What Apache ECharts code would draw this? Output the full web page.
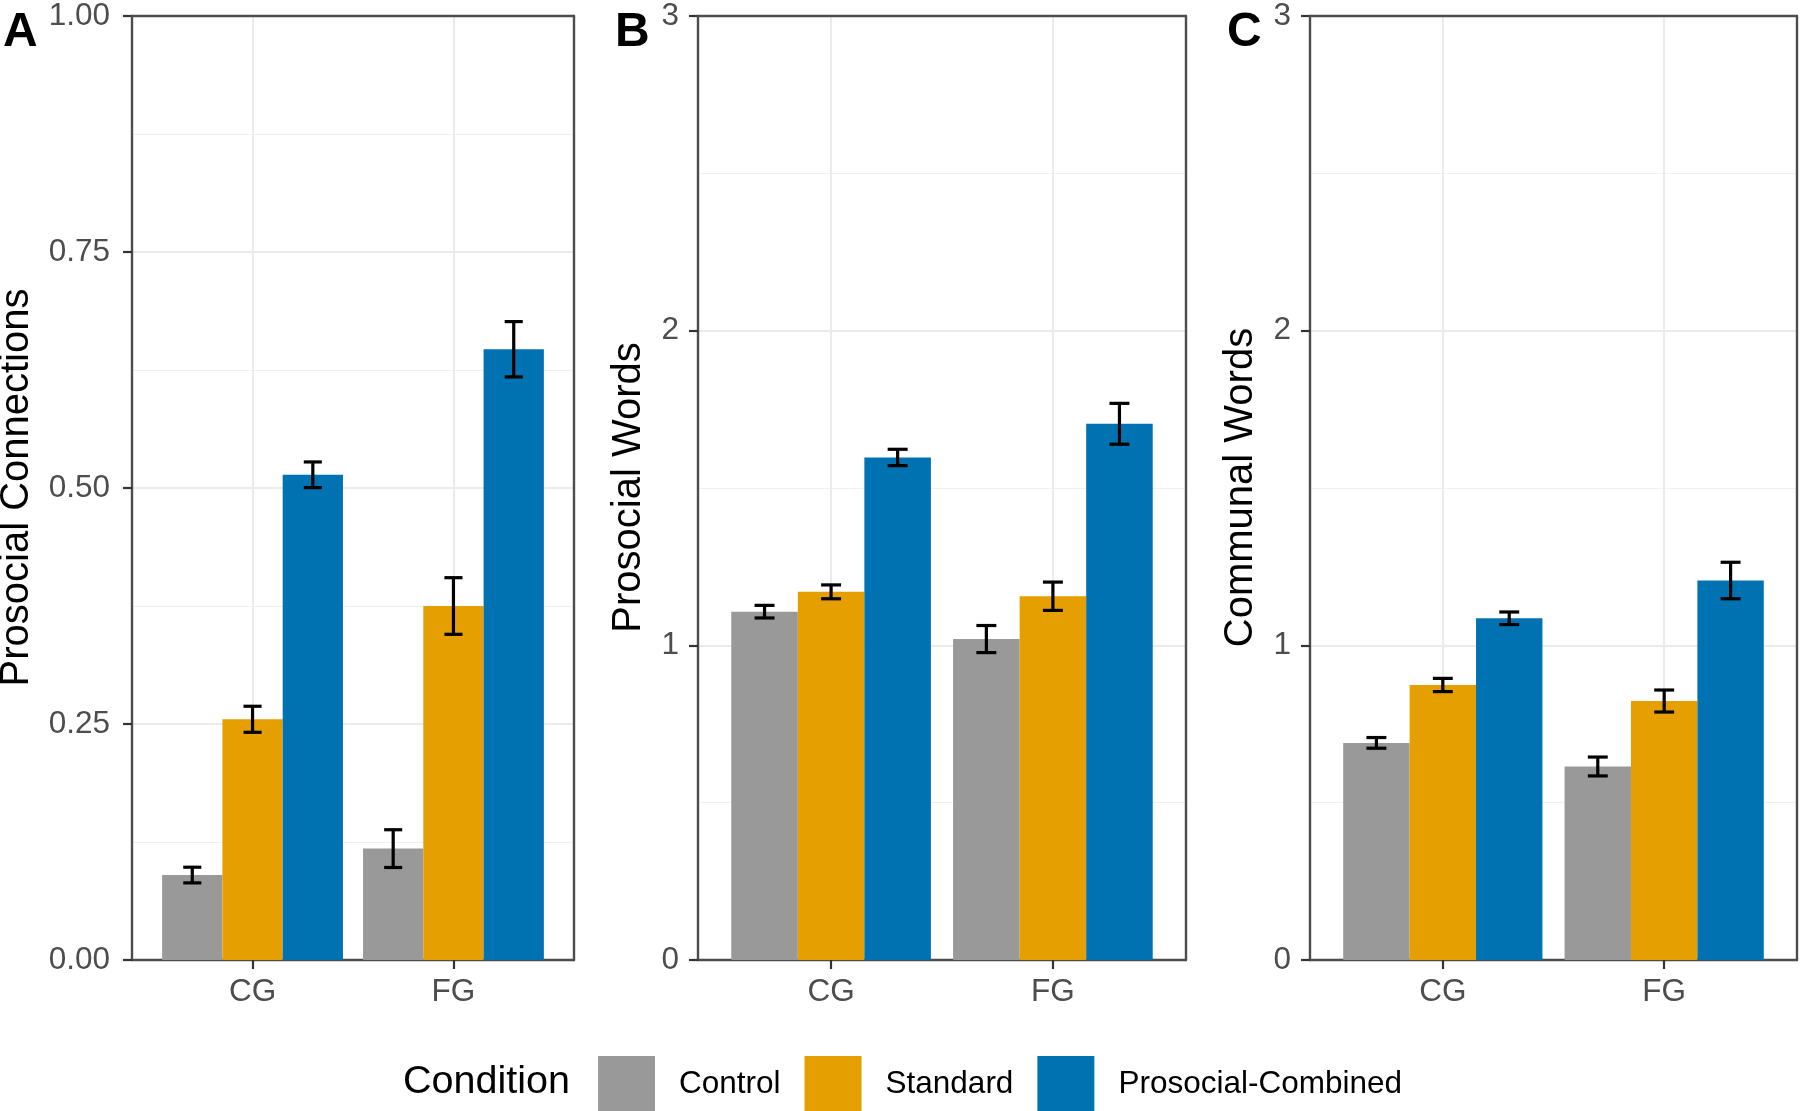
<!DOCTYPE html>
<html><head><meta charset="utf-8">
<script src="https://cdn.jsdelivr.net/npm/echarts@6/dist/echarts.min.js"></script>
<style>html,body{margin:0;padding:0;background:#fff}#chart{width:1800px;height:1111px}</style>
</head><body><div id="chart"></div>
<script>
// ---- Data ----
const groups = ['CG', 'FG'];
const conditions = ['Control', 'Standard', 'Prosocial-Combined'];
const conditionColors = ['#999999', '#E69F00', '#0072B2'];

// Panel A: Prosocial Connections (mean, SE)
const connControl = [0.090, 0.118];
const connStandard = [0.255, 0.375];
const connProsocial = [0.514, 0.647];
const connControlSE = [0.0083, 0.020];
const connStandardSE = [0.0138, 0.030];
const connProsocialSE = [0.0136, 0.0293];

// Panel B: Prosocial Words
const wordsControl = [1.107, 1.020];
const wordsStandard = [1.170, 1.156];
const wordsProsocial = [1.597, 1.704];
const wordsControlSE = [0.020, 0.043];
const wordsStandardSE = [0.022, 0.045];
const wordsProsocialSE = [0.026, 0.065];

// Panel C: Communal Words
const commControl = [0.690, 0.615];
const commStandard = [0.874, 0.823];
const commProsocial = [1.086, 1.206];
const commControlSE = [0.017, 0.030];
const commStandardSE = [0.021, 0.035];
const commProsocialSE = [0.020, 0.058];

// Tick labels
const ticksA = ['0.00', '0.25', '0.50', '0.75', '1.00'];
const ticksBC = ['0', '1', '2', '3'];

// ---- Chart ----
const FONT = '"Liberation Sans", Arial, Helvetica, sans-serif';
const chart = echarts.init(document.getElementById('chart'));

const panels = [
  { left: 132, width: 442, yMax: 1, interval: 0.25, ticks: ticksA, labelMargin: 22,
    means: [connControl, connStandard, connProsocial], ses: [connControlSE, connStandardSE, connProsocialSE],
    title: 'Prosocial Connections', titleX: 17, letter: 'A', letterX: 3 },
  { left: 698, width: 488, yMax: 3, interval: 1, ticks: ticksBC, labelMargin: 19,
    means: [wordsControl, wordsStandard, wordsProsocial], ses: [wordsControlSE, wordsStandardSE, wordsProsocialSE],
    title: 'Prosocial Words', titleX: 629, letter: 'B', letterX: 615 },
  { left: 1310, width: 487, yMax: 3, interval: 1, ticks: ticksBC, labelMargin: 19,
    means: [commControl, commStandard, commProsocial], ses: [commControlSE, commStandardSE, commProsocialSE],
    title: 'Communal Words', titleX: 1241, letter: 'C', letterX: 1227 }
];

const TOP = 15, HEIGHT = 945;
const BORDER = { color: '#4d4d4d', width: 2.4 };
const grid = [], xAxis = [], yAxis = [], series = [], graphic = [];

panels.forEach((p, i) => {
  grid.push({ left: p.left, top: TOP, width: p.width, height: HEIGHT, show: false, containLabel: false });
  // bottom x axis (labels, ticks, vertical grid lines)
  xAxis.push({
    gridIndex: i, type: 'value', min: 0.4, max: 2.6, position: 'bottom',
    axisLine: { show: true, onZero: false, lineStyle: BORDER },
    axisTick: { show: true, customValues: [1, 2], length: 9, lineStyle: { color: '#333333', width: 2.2 } },
    axisLabel: { customValues: [1, 2], formatter: v => groups[Math.round(v) - 1] || '',
      fontSize: 31.5, color: '#4d4d4d', fontFamily: FONT, margin: 16 },
    splitLine: { show: true, lineStyle: { color: '#ebebeb', width: 2 } },
    z: 1
  });
  // top frame line
  xAxis.push({
    gridIndex: i, type: 'value', min: 0.4, max: 2.6, position: 'top',
    axisLine: { show: true, onZero: false, lineStyle: BORDER },
    axisTick: { show: false }, axisLabel: { show: false }, splitLine: { show: false }, z: 3
  });
  yAxis.push({
    gridIndex: i, type: 'value', min: 0, max: p.yMax, interval: p.interval, position: 'left',
    axisLine: { show: true, onZero: false, lineStyle: BORDER },
    axisTick: { show: true, length: 9, lineStyle: { color: '#333333', width: 2.2 } },
    axisLabel: { formatter: v => p.ticks[Math.round(v / p.interval)], fontSize: 31.5,
      color: '#4d4d4d', fontFamily: FONT, margin: p.labelMargin },
    splitLine: { show: true, showMinLine: false, showMaxLine: false, lineStyle: { color: '#ebebeb', width: 2 } },
    minorTick: { show: false, splitNumber: 2 },
    minorSplitLine: { show: true, lineStyle: { color: '#f0f0f0', width: 1 } },
    z: 1
  });
  // right frame line
  yAxis.push({
    gridIndex: i, type: 'value', min: 0, max: p.yMax, interval: p.interval, position: 'right',
    axisLine: { show: true, onZero: false, lineStyle: BORDER },
    axisTick: { show: false }, axisLabel: { show: false }, splitLine: { show: false }, z: 3
  });

  const xi = i * 2, yi = i * 2;
  conditions.forEach((c, k) => {
    series.push({
      type: 'bar', name: c, xAxisIndex: xi, yAxisIndex: yi,
      data: groups.map((g, j) => [j + 1, p.means[k][j]]),
      barWidth: '30%', barGap: '0%',
      itemStyle: { color: conditionColors[k] }, z: 2, silent: true
    });
  });

  const errData = [];
  conditions.forEach((c, k) => {
    groups.forEach((g, j) => {
      const m = p.means[k][j], s = p.ses[k][j];
      errData.push([j + 1 + (k - 1) * 0.3, m - s, m + s]);
    });
  });
  series.push({
    type: 'custom', name: 'errorbars', xAxisIndex: xi, yAxisIndex: yi, z: 5, silent: true,
    data: errData,
    renderItem: (params, api) => {
      const x = api.value(0), lo = api.value(1), hi = api.value(2);
      const pLo = api.coord([x, lo]), pHi = api.coord([x, hi]);
      const hw = api.size([0.045, 0])[0];
      const st = { stroke: '#000000', lineWidth: 3.2 };
      return { type: 'group', children: [
        { type: 'line', shape: { x1: pLo[0], y1: pLo[1], x2: pHi[0], y2: pHi[1] }, style: st },
        { type: 'line', shape: { x1: pLo[0] - hw, y1: pLo[1], x2: pLo[0] + hw, y2: pLo[1] }, style: st },
        { type: 'line', shape: { x1: pHi[0] - hw, y1: pHi[1], x2: pHi[0] + hw, y2: pHi[1] }, style: st }
      ]};
    }
  });

  graphic.push({ type: 'text', x: p.letterX, y: 32.5,
    style: { text: p.letter, font: 'bold 48px ' + FONT, fill: '#000', verticalAlign: 'middle', align: 'left' } });
  graphic.push({ type: 'text', x: p.titleX, y: TOP + HEIGHT / 2, rotation: Math.PI / 2,
    style: { text: p.title, font: '40px ' + FONT, fill: '#000', verticalAlign: 'middle', align: 'center' } });
});

graphic.push({ type: 'text', x: 403, y: 1082,
  style: { text: 'Condition', font: '39.5px ' + FONT, fill: '#000', verticalAlign: 'middle', align: 'left' } });

chart.setOption({
  animation: false,
  backgroundColor: '#ffffff',
  grid, xAxis, yAxis, series, graphic,
  legend: {
    data: conditions, left: 593, top: 1051, orient: 'horizontal',
    itemWidth: 57, itemHeight: 56, itemGap: 24, icon: 'rect', selectedMode: false,
    textStyle: { fontSize: 31.5, color: '#000', fontFamily: FONT, padding: [0, 0, 0, 19] }
  }
});
</script></body></html>
